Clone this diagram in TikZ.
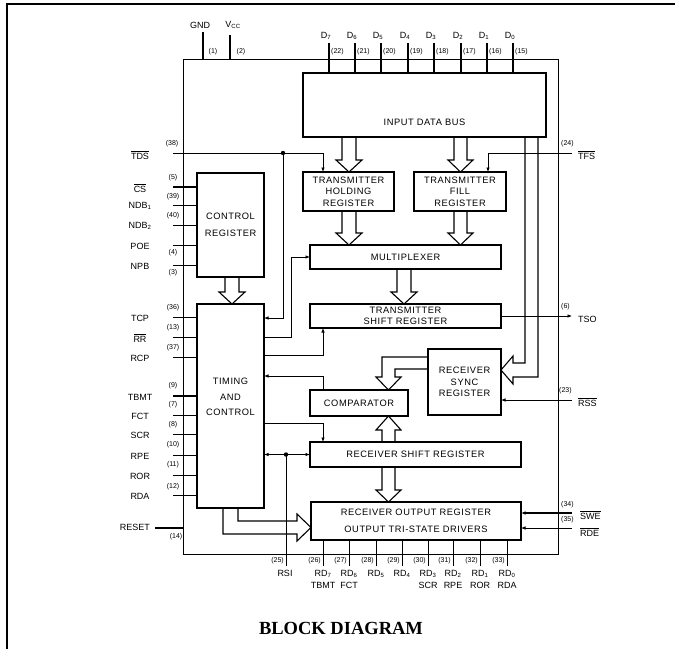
\documentclass[tikz,border=0pt]{standalone}
\usepackage{fontspec}
\setmainfont{Liberation Serif}
\newfontfamily\chipfont[LetterSpace=6]{Liberation Sans}
\newfontfamily\pinfont{Liberation Sans}
\usetikzlibrary{arrows.meta,calc}
\newcommand{\ovl}[1]{$\overline{\mbox{#1}}$}

% wide bus arrow: left stem x, right stem x, from node, to node
\newcommand{\fatdown}[4]{%
  \pgfmathsetmacro\fatmid{(#1+#2)/2}
  \draw[fatbus] (#1,0 |- #3.south) -- ($(#1,0 |- #4.north)+(0,-12)$) -- ++(-6,0)
    -- (\fatmid,0 |- #4.north) -- ($(#2,0 |- #4.north)+(6,-12)$) -- ++(-6,0) -- (#2,0 |- #3.south);}
\newcommand{\fatup}[4]{%
  \pgfmathsetmacro\fatmid{(#1+#2)/2}
  \draw[fatbus] (#1,0 |- #3.north) -- ($(#1,0 |- #4.south)+(0,14)$) -- ++(-6,0)
    -- (\fatmid,0 |- #4.south) -- ($(#2,0 |- #4.south)+(6,14)$) -- ++(-6,0) -- (#2,0 |- #3.north);}

\begin{document}
\begin{tikzpicture}[x=1pt, y=-1pt,
        chipbox/.style={draw, line width=0.8pt, inner sep=0pt, outer sep=0pt},
        regbox/.style={draw, line width=1.4pt, inner sep=0pt, outer sep=0pt, align=center, font=\chipfont\fontsize{9.3}{11.5}\selectfont},
        regtext/.style={inner sep=0pt, align=center, font=\chipfont\fontsize{9.3}{11.5}\selectfont},
        fatbus/.style={line width=1.1pt, line join=miter},
        sig/.style={line width=0.7pt},
        sigarrow/.style={sig, -{Latex[length=4.5pt,width=3.5pt]}},
        pinname/.style={inner sep=0pt, align=center, font=\pinfont\fontsize{9}{12}\selectfont},
        pinnum/.style={inner sep=0pt, font=\pinfont\fontsize{7}{8}\selectfont},
        blocktitle/.style={font=\bfseries\fontsize{18.5}{20}\selectfont}
    ]
        \useasboundingbox (0,0) rectangle (675,649);
        \draw[line width=1.2pt] (7,649) -- (7,4) -- (675,4);

        \node[chipbox, minimum width=375pt, minimum height=495pt] (chip) at (370.5,306.5) {};

        % registers
        \node[regbox, minimum width=243pt, minimum height=64pt,
              label={[regtext, yshift=-17pt]center:INPUT DATA BUS}] (bus) at (424.5,105) {};
        \node[regbox, minimum width=91pt, minimum height=39pt] (thr) at (348.5,191.5) {TRANSMITTER\\HOLDING\\REGISTER};
        \node[regbox, minimum width=92pt, minimum height=39pt] (tfr) at (460,191.5) {TRANSMITTER\\FILL\\REGISTER};
        \node[regbox, minimum width=191pt, minimum height=24pt] (mux) at (405.5,257) {MULTIPLEXER};
        \node[regbox, minimum width=191pt, minimum height=24pt] (tsr) at (405.5,316) {TRANSMITTER\\SHIFT REGISTER};
        \node[regbox, minimum width=73pt, minimum height=66pt] (rsync) at (464.5,382) {RECEIVER\\SYNC\\REGISTER};
        \node[regbox, minimum width=98pt, minimum height=26pt] (cmp) at (359,403) {COMPARATOR};
        \node[regbox, minimum width=211pt, minimum height=25pt] (rsr) at (415.5,454.5) {RECEIVER SHIFT REGISTER};
        \node[regbox, minimum width=210pt, minimum height=38pt] (ror) at (416,521) {RECEIVER OUTPUT REGISTER\\[6pt]OUTPUT TRI-STATE DRIVERS};
        \node[regbox, minimum width=67pt, minimum height=104pt] (creg) at (230.5,225) {CONTROL\\[5pt]REGISTER};
        \node[regbox, minimum width=67pt, minimum height=204pt,
              label={[regtext, yshift=9pt]center:{TIMING\\[4pt]AND\\[4pt]CONTROL}}] (tc) at (230.5,406) {};

        % bus arrows
        \fatdown{342}{356}{bus}{thr}
        \fatdown{454}{467}{bus}{tfr}
        \fatdown{342}{356}{thr}{mux}
        \fatdown{454}{467}{tfr}{mux}
        \fatdown{397}{411}{mux}{tsr}
        \fatdown{382}{395}{rsr}{ror}
        \fatdown{225}{239}{creg}{tc}
        \fatup{382}{395}{rsr}{cmp}
        \draw[fatbus] (525,0 |- bus.south) -- (525,363) -- (513,363) -- (513,356) -- (rsync.east |- 0,370)
            -- (513,384) -- (513,377) -- (538,377) -- (538,0 |- bus.south);
        \draw[fatbus] (rsync.west |- 0,357) -- (382,357) -- (382,377) -- (376,377) -- (388.5,0 |- cmp.north)
            -- (401,377) -- (395,377) -- (395,369) -- (rsync.west |- 0,369);
        \draw[fatbus] (238,0 |- tc.south) -- (238,521) -- (297,521) -- (297,514) -- (ror.west |- 0,527.5)
            -- (297,541) -- (297,534) -- (223,534) -- (223,0 |- tc.south);

        % power and data pins
        \coordinate (gndP) at (203,32);
        \coordinate (vccP) at (230,35);
        \draw[line width=1.1pt] (gndP) -- (gndP |- chip.north);
        \draw[line width=1.1pt] (vccP) -- (vccP |- chip.north);
        \node[pinname] (gndn) at (200,25) {GND};
        \node[pinname] (vccn) at (233,25) {V\textsubscript{CC}};
        \node[pinnum] (gndnum) at (213,52) {(1)};
        \node[pinnum] (vccnum) at (241,52) {(2)};

        \foreach \i/\x/\num in {7/329/22, 6/355/21, 5/381/20, 4/408/19, 3/434/18, 2/461/17, 1/487/16, 0/513/15}{
            \coordinate (dp\i) at (\x,43);
            \draw[line width=1.1pt] (dp\i) -- (dp\i |- bus.north);
            \node[pinname] (dn\i) at (\x-3,36) {D\textsubscript{\i}};
            \node[pinnum, anchor=west] (dnum\i) at (\x+2,52) {(\num)};
        }

        % left pins
        \coordinate (tdsP) at (173,153);
        \coordinate (tdsJ) at (283,153);
        \node[pinname] (tdsn) at (140,155) {\ovl{TDS}};
        \node[pinnum] (tdsnum) at (172,144) {(38)};
        \draw[sigarrow] (tdsP) -| ([xshift=-25.5pt]thr.north);
        \draw[sigarrow] (tdsJ) |- (tc.east |- 0,318);
        \fill (tdsJ) circle (2.2);

        \foreach \nm/\y/\num/\ny/\lw [count=\k] in {{\ovl{CS}}/187/5/178/1.6pt, NDB\textsubscript{1}/205/39/197/0.7pt,
                NDB\textsubscript{2}/225/40/216/0.7pt, POE/245/4/253/0.7pt, NPB/265/3/273/0.7pt}{
            \coordinate (crp\k) at (173,\y);
            \draw[line width=\lw] (crp\k) -- (creg.west |- crp\k);
            \node[pinname] (crn\k) at (140,\y+1) {\nm};
            \node[pinnum] (crnum\k) at (173,\ny) {(\num)};
        }

        \foreach \nm/\y/\num/\ny/\lw [count=\k] in {TCP/317/36/308/0.7pt, {\ovl{RR}}/337/13/328/0.7pt, RCP/357/37/348/0.7pt,
                TBMT/396/9/386/1.6pt, FCT/415/7/405/0.7pt, SCR/434/8/425/0.7pt, RPE/455/10/445/0.7pt,
                ROR/475/11/465/0.7pt, RDA/495/12/487/0.7pt}{
            \coordinate (tcp\k) at (173,\y);
            \draw[line width=\lw] (tcp\k) -- (tc.west |- tcp\k);
            \node[pinname] (tcn\k) at (140,\y+1) {\nm};
            \node[pinnum] (tcnum\k) at (173,\ny) {(\num)};
        }

        \coordinate (rstP) at (155,528);
        \draw[line width=1.6pt] (rstP) -- (chip.west |- rstP);
        \node[pinname, anchor=east] (rstn) at (150,527) {RESET};
        \node[pinnum] (rstnum) at (176,537) {(14)};

        % timing and control lines
        \draw[sigarrow] (tc.east |- 0,337) -| ([xshift=-19pt]mux.west) -- (mux.west);
        \draw[sigarrow] (tc.east |- 0,355) -| ([xshift=-82.5pt]tsr.south);
        \draw[sigarrow] ([xshift=-36pt]cmp.north) |- (tc.east |- 0,376);
        \draw[sigarrow] (tc.east |- 0,423) -| ([xshift=-92.5pt]rsr.north);

        % receiver serial input
        \coordinate (rsiP) at (286,566);
        \coordinate (rsiJ) at (rsiP |- rsr.west);
        \draw[sig] (rsiP) -- (rsiJ);
        \draw[sigarrow] (rsiJ) -- (rsr.west);
        \draw[sigarrow] (rsiJ) -- (tc.east |- rsiJ);
        \fill (rsiJ) circle (2.2);
        \node[pinnum, anchor=east] (rsinum) at (284,561) {(25)};
        \node[pinname, anchor=north] (rsin) at (285,570) {RSI};

        % receiver data outputs
        \foreach \i/\x/\num/\alt in {7/323/26/TBMT, 6/349/27/FCT, 5/376/28/{}, 4/402/29/{}, 3/428/30/SCR, 2/453/31/RPE, 1/480/32/ROR, 0/507/33/RDA}{
            \coordinate (rd\i) at (\x,566);
            \draw[sig] (rd\i) -- (rd\i |- ror.south);
            \node[pinnum, anchor=east] (rdnum\i) at (\x-2,561) {(\num)};
            \node[pinname, anchor=north] (rdn\i) at (\x,570) {RD\textsubscript{\i}\\\alt};
        }

        % right pins
        \coordinate (tfsP) at (572,153);
        \coordinate (tsoP) at (572,316);
        \coordinate (rssP) at (572,400);
        \coordinate (sweP) at (572,513);
        \coordinate (rdeP) at (572,528);
        \draw[sigarrow] (tfsP) -| ([xshift=28pt]tfr.north);
        \draw[sigarrow] (tsr.east) -- (tsoP);
        \draw[sigarrow] (rssP) -- (rsync.east |- rssP);
        \draw[sigarrow, line width=1.2pt] (sweP) -- (ror.east |- sweP);
        \draw[sigarrow] (rdeP) -- (ror.east |- rdeP);
        \node[pinname, anchor=west] (tfsn) at (578,155) {\ovl{TFS}};
        \node[pinname, anchor=west] (tson) at (578,319) {TSO};
        \node[pinname, anchor=west] (rssn) at (578,402) {\ovl{RSS}};
        \node[pinname, anchor=west] (swen) at (580,515) {\ovl{SWE}};
        \node[pinname, anchor=west] (rden) at (580,532) {\ovl{RDE}};
        \node[pinnum, anchor=west] (tfsnum) at (561,144) {(24)};
        \node[pinnum, anchor=west] (tsonum) at (561,307) {(6)};
        \node[pinnum, anchor=west] (rssnum) at (559,391) {(23)};
        \node[pinnum, anchor=west] (swenum) at (561,505) {(34)};
        \node[pinnum, anchor=west] (rdenum) at (561,520) {(35)};

        \node[blocktitle] (caption) at (341,628) {BLOCK DIAGRAM};
    \end{tikzpicture}
\end{document}
